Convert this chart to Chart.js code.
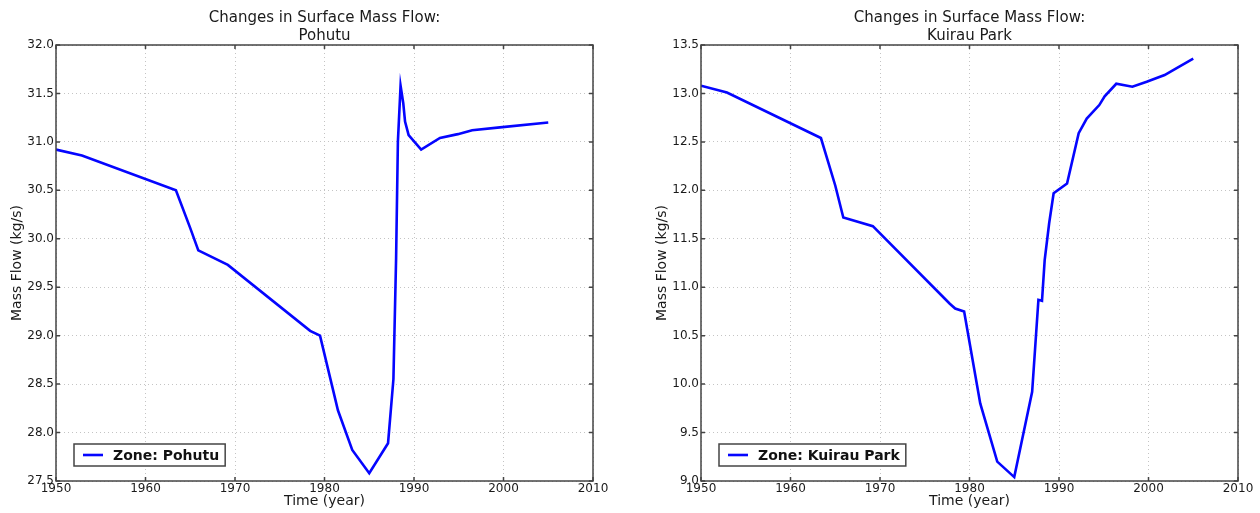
<!DOCTYPE html>
<html>
<head>
<meta charset="utf-8">
<script src="https://cdn.jsdelivr.net/npm/chart.js@4.4.1/dist/chart.umd.min.js"></script>
<style>
    html, body { margin: 0; padding: 0; background: #fff; }
    .panel { position: absolute; top: 0; width: 630px; height: 513px; }
    #left { left: 0; }
    #right { left: 630px; }
</style>
</head>
<body>
<div class="panel" id="left"><canvas id="pohutuChart" width="630" height="513"></canvas></div>
<div class="panel" id="right"><canvas id="kuirauChart" width="630" height="513"></canvas></div>
<script>
// Surface mass flow per zone (kg/s) against model time (year)
const pohutuYears = [1950, 1952.9, 1963.4, 1965.0, 1965.9, 1969.2, 1978.4, 1979.5, 1980.8, 1981.5,
    1983.1, 1985.0, 1987.1, 1987.7, 1988.0, 1988.2, 1988.5, 1988.8, 1989.0, 1989.4,
    1990.8, 1992.9, 1994.9, 1996.5, 1999.6, 2005.0];
const pohutuFlow = [30.92, 30.86, 30.50, 30.11, 29.88, 29.73, 29.05, 29.00, 28.50, 28.23,
    27.82, 27.58, 27.89, 28.55, 29.80, 31.00, 31.58, 31.40, 31.21, 31.07,
    30.92, 31.04, 31.08, 31.12, 31.15, 31.20];

const kuirauYears = [1950, 1952.9, 1963.4, 1965.0, 1965.9, 1969.2, 1977.8, 1978.4, 1979.4, 1981.2,
    1983.1, 1985.0, 1987.0, 1987.7, 1988.1, 1988.4, 1988.9, 1989.4, 1990.9, 1992.2,
    1993.1, 1994.5, 1995.1, 1996.4, 1998.2, 1999.8, 2001.8, 2003.1, 2005.0];
const kuirauFlow = [13.08, 13.01, 12.54, 12.05, 11.72, 11.63, 10.83, 10.78, 10.75, 9.80,
    9.20, 9.04, 9.92, 10.87, 10.86, 11.28, 11.66, 11.97, 12.07, 12.59,
    12.74, 12.88, 12.97, 13.10, 13.07, 13.12, 13.19, 13.26, 13.36];

const yearTicks = [1950, 1960, 1970, 1980, 1990, 2000, 2010];

Chart.defaults.font.family = "'DejaVu Sans', sans-serif";
Chart.defaults.color = '#1a1a1a';

// box around the plot with small inward ticks, like the old pylab look
const frameBox = {
    id: 'frameBox',
    afterDraw(chart) {
        const { ctx, chartArea: a, scales } = chart;
        ctx.save();
        ctx.strokeStyle = '#444';
        ctx.lineWidth = 1.5;
        ctx.beginPath();
        scales.x.ticks.forEach(t => {
            const px = scales.x.getPixelForValue(t.value);
            ctx.moveTo(px, a.bottom); ctx.lineTo(px, a.bottom - 4);
            ctx.moveTo(px, a.top); ctx.lineTo(px, a.top + 4);
        });
        scales.y.ticks.forEach(t => {
            const py = scales.y.getPixelForValue(t.value);
            ctx.moveTo(a.left, py); ctx.lineTo(a.left + 4, py);
            ctx.moveTo(a.right, py); ctx.lineTo(a.right - 4, py);
        });
        ctx.stroke();
        ctx.strokeRect(a.left, a.top, a.right - a.left, a.bottom - a.top);
        ctx.restore();
    }
};

// framed legend in the lower-left corner of the plot
const cornerLegend = {
    id: 'cornerLegend',
    afterDraw(chart) {
        const { ctx, chartArea: a } = chart;
        const ds = chart.data.datasets[0];
        ctx.save();
        ctx.font = "bold 14px 'DejaVu Sans', sans-serif";
        const textW = ctx.measureText(ds.label).width;
        const x = a.left + 18, y = a.bottom - 37, h = 22;
        const w = 39 + textW + 6;
        ctx.fillStyle = '#fff';
        ctx.fillRect(x, y, w, h);
        ctx.strokeStyle = '#444';
        ctx.lineWidth = 1.5;
        ctx.strokeRect(x, y, w, h);
        ctx.strokeStyle = ds.borderColor;
        ctx.lineWidth = ds.borderWidth;
        ctx.beginPath();
        ctx.moveTo(x + 9, y + h / 2);
        ctx.lineTo(x + 29, y + h / 2);
        ctx.stroke();
        ctx.fillStyle = '#111';
        ctx.textBaseline = 'middle';
        ctx.fillText(ds.label, x + 39, y + h / 2 + 1);
        ctx.restore();
    }
};

function buildChart(canvasId, zone, years, flow, yMin, yMax, padLeft, padRight) {
    return new Chart(document.getElementById(canvasId), {
        type: 'line',
        data: {
            datasets: [{
                label: 'Zone: ' + zone,
                data: years.map((yr, i) => ({ x: yr, y: flow[i] })),
                borderColor: '#0505ff',
                borderWidth: 2.6,
                pointRadius: 0,
                tension: 0,
                fill: false
            }]
        },
        options: {
            responsive: false,
            animation: false,
            devicePixelRatio: 1,
            layout: { padding: { left: padLeft, right: padRight, top: 0, bottom: 0 } },
            plugins: {
                legend: { display: false },
                tooltip: { enabled: false },
                title: {
                    display: true,
                    fullSize: false,
                    text: ['Changes in Surface Mass Flow:', zone],
                    color: '#1a1a1a',
                    font: { size: 15, weight: 'normal', lineHeight: 1.2 },
                    padding: { top: 9, bottom: 0 }
                }
            },
            scales: {
                x: {
                    type: 'linear',
                    min: 1950,
                    max: 2010,
                    afterBuildTicks: scale => { scale.ticks = yearTicks.map(v => ({ value: v })); },
                    afterFit: scale => { scale.height = 32; },
                    ticks: {
                        padding: 1,
                        maxRotation: 0,
                        font: { size: 12 },
                        callback: v => String(v)
                    },
                    grid: { color: '#c4c4c4', drawTicks: false, lineWidth: 1 },
                    border: { display: false, dash: [1, 3] },
                    title: {
                        display: true,
                        text: 'Time (year)',
                        font: { size: 14 },
                        padding: { top: 0, bottom: 3 }
                    }
                },
                y: {
                    min: yMin,
                    max: yMax,
                    afterFit: scale => { scale.width = 56; },
                    ticks: {
                        stepSize: 0.5,
                        padding: 2,
                        font: { size: 12 },
                        callback: v => v.toFixed(1)
                    },
                    grid: { color: '#c4c4c4', drawTicks: false, lineWidth: 1 },
                    border: { display: false, dash: [1, 3] },
                    title: {
                        display: true,
                        text: 'Mass Flow (kg/s)',
                        font: { size: 14 },
                        padding: { top: 9, bottom: 0 }
                    }
                }
            }
        },
        plugins: [frameBox, cornerLegend]
    });
}

buildChart('pohutuChart', 'Pohutu', pohutuYears, pohutuFlow, 27.5, 32.0, 0, 37);
buildChart('kuirauChart', 'Kuirau Park', kuirauYears, kuirauFlow, 9.0, 13.5, 15, 22);
</script>
</body>
</html>
